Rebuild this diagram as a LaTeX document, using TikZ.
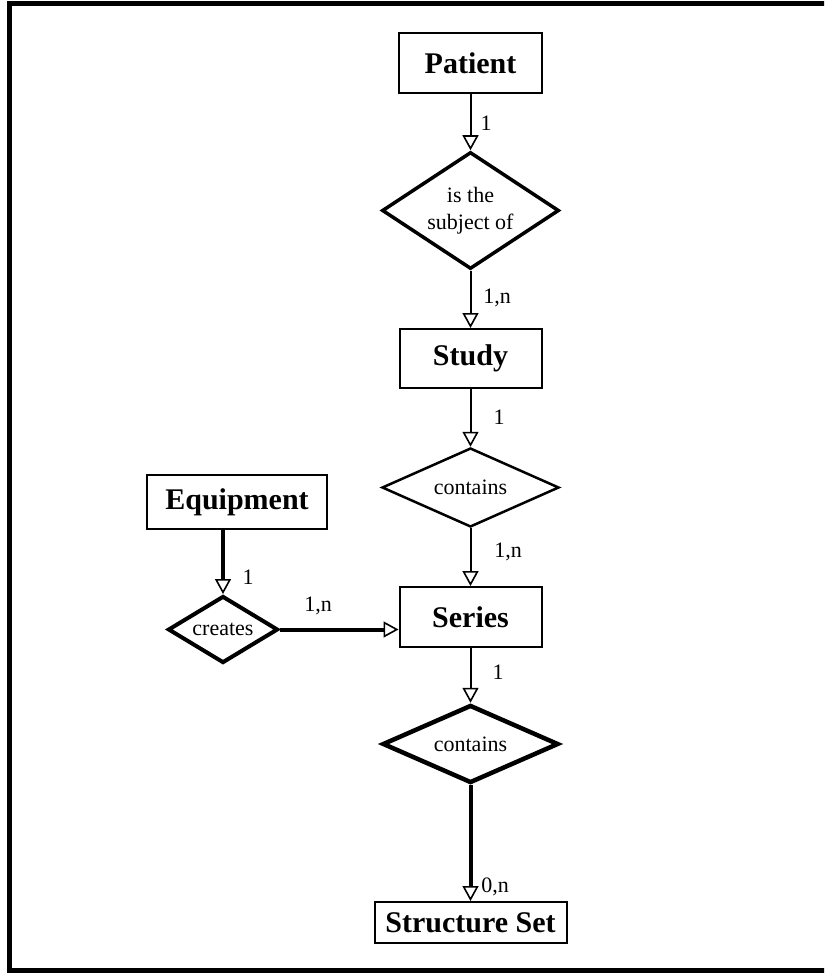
\documentclass[tikz,border=0pt]{standalone}
\usepackage{fontspec}
\setmainfont{Liberation Serif}
\usetikzlibrary{shapes.geometric,arrows.meta}

\begin{document}
\begin{tikzpicture}[x=1pt,y=-1pt]
        \tikzstyle{every node}=[inner sep=0pt, text=black]
        \tikzstyle{entity}=[rectangle, draw=black, line width=2pt, font=\fontsize{30}{36}\selectfont\bfseries]
        \tikzstyle{rel}=[diamond, draw=black, shape aspect=2, align=center, font=\fontsize{22}{27}\selectfont]
        \tikzstyle{card}=[font=\fontsize{22}{26}\selectfont]
        \tikzstyle{edge}=[black, line width=2pt, -{Triangle[open, length=15pt, width=16pt, line width=1.6pt]}]

        \useasboundingbox (0,0) rectangle (824,973);
        \clip (0,0) rectangle (824,973);
        \draw[line width=5pt] (840,3.5) -- (9.5,3.5) -- (9.5,970.5) -- (840,970.5);

        \node[entity, minimum width=143pt, minimum height=60pt] (pat) at (470.5,63)    {Patient};
        \node[rel, minimum width=177pt, minimum height=117pt, shape aspect=1.5, line width=3.5pt] (sub) at (470.5,210.5) {is the\\subject of};
        \node[entity, minimum width=142pt, minimum height=59pt] (stu) at (470.5,358.5)  {Study};
        \node[rel, minimum width=177pt, minimum height=79pt, line width=2.5pt] (con) at (470.5,487.5) {\raisebox{-6pt}{contains}};
        \node[entity, minimum width=142pt, minimum height=60pt] (ser) at (470.5,617)    {Series};
        \node[rel, minimum width=176pt, minimum height=78pt, line width=4.5pt] (con2) at (470.5,744) {\raisebox{-4pt}{contains}};
        \node[entity, minimum width=192pt, minimum height=41pt] (sts) at (470.5,922.5)  {Structure Set};

        \node[entity, minimum width=180pt, minimum height=54pt] (equ) at (237,502)      {Equipment};
        \node[rel, minimum width=110pt, minimum height=67pt, line width=4pt] (cre) at (223,629.5) {creates};

        \draw[edge] (pat) -- (sub);
        \draw[edge] (sub) -- (stu);
        \draw[edge] (stu) -- (con);
        \draw[edge] (con) -- (ser);
        \draw[edge] (ser) -- (con2);
        \draw[edge, line width=4pt] (con2) -- (sts);
        \draw[edge, line width=4pt] (equ.south -| cre.north) -- (cre);
        \draw[edge, line width=4pt] (cre.east) -- (cre.east -| ser.west);

        \node[card] (c1) at (486,123) {1};
        \node[card] (c2) at (497,298) {1,n};
        \node[card] (c3) at (499,417) {1};
        \node[card] (c4) at (508,552) {1,n};
        \node[card] (c5) at (498,672) {1};
        \node[card] (c6) at (495,887) {0,n};
        \node[card] (c7) at (248,577) {1};
        \node[card] (c8) at (318,606) {1,n};
\end{tikzpicture}
\end{document}
